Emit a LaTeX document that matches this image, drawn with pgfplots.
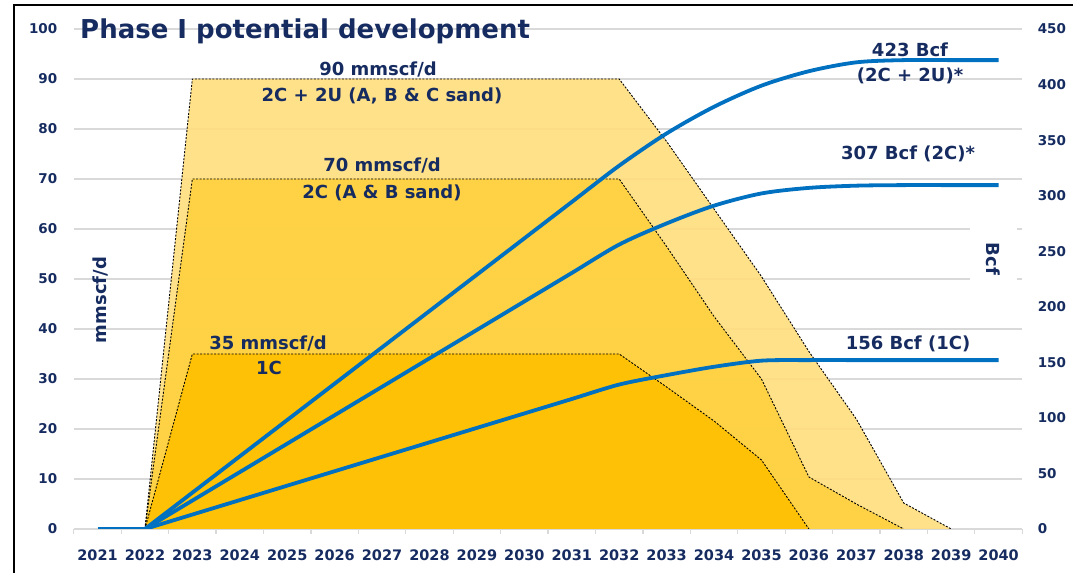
\documentclass[border=0pt]{standalone}
\usepackage{fontspec}
\setmainfont{DejaVu Sans}
\usepackage{pgfplots}
\usepackage{pgfplotstable}
\pgfplotsset{compat=1.18}

\definecolor{navy}{RGB}{22,44,96}
\definecolor{cumblue}{RGB}{0,112,192}
\definecolor{gridgray}{RGB}{217,217,217}
\definecolor{lightgold}{RGB}{255,222,128}
\definecolor{midgold}{RGB}{255,210,64}
\definecolor{darkgold}{RGB}{255,192,0}

% production rate, mmscf/d (x = 0 for 2021)
\pgfplotstableread{
x rate
1 0
2 90
11 90
12 77.5
13 64
14 50.5
15 35.5
16 22
17 5.2
18 0
}\rateHigh
\pgfplotstableread{
x rate
1 0
2 70
11 70
12 56.5
13 42.5
14 30
15 10.4
16 5
17 0
}\rateMid
\pgfplotstableread{
x rate
1 0
2 35
11 35
12 28.4
13 21.6
14 13.8
15 0
}\rateLow

% cumulative, Bcf
\pgfplotstableread{
x high mid low
1 0 0 0
2 32.7 25.6 13
3 65.4 51.2 26
4 98.1 76.8 39
5 130.8 102.4 52
6 163.5 128 65
7 196.2 153.6 78
8 228.9 179.2 91
9 261.6 204.8 104
10 294.3 230.4 117
11 327 256 130
12 356 275 138.5
13 380 291 146
14 399 302 151.5
15 412 307 152
16 420 309 152
17 422 309.5 152
18 422 309.5 152
19 422 309.5 152
}\cumul

\pgfplotsset{
  base/.style={
    scale only axis, width=948.5bp, height=500bp,
    at={(73.8bp,44bp)}, anchor=south west,
    xmin=-0.5, xmax=19.5,
  },
}
\tikzset{
  lbl/.style={font=\fontsize{18bp}{21bp}\selectfont\bfseries, text=navy, inner sep=0pt},
}

\begin{document}
\begin{tikzpicture}
\useasboundingbox (0,0) rectangle (1073bp,573bp);

\begin{axis}[base,
  ymin=0, ymax=100, ytick={0,10,...,100},
  ymajorgrids, grid style={gridgray, line width=1.2bp},
  axis x line*=bottom, axis y line*=left,
  y axis line style={draw=none},
  x axis line style={gridgray, line width=1.2bp},
  xtick={0,...,19},
  xticklabels={2021,2022,2023,2024,2025,2026,2027,2028,2029,2030,2031,2032,2033,2034,2035,2036,2037,2038,2039,2040},
  minor xtick={-0.5,0.5,...,19.5},
  major tick length=0pt, minor tick length=5bp, tick align=outside,
  minor tick style={gridgray, line width=1.2bp},
  xticklabel style={font=\fontsize{14.5bp}{16bp}\selectfont\bfseries, text=navy, yshift=-17bp},
  yticklabel style={font=\fontsize{13.5bp}{15bp}\selectfont\bfseries, text=navy, xshift=-13bp},
  /pgf/number format/assume math mode=true,
]
\addplot[fill=lightgold, fill opacity=0.92, draw=none] table[x=x,y=rate]{\rateHigh} \closedcycle;
\addplot[fill=midgold, fill opacity=0.92, draw=none] table[x=x,y=rate]{\rateMid} \closedcycle;
\addplot[fill=darkgold, fill opacity=0.92, draw=none] table[x=x,y=rate]{\rateLow} \closedcycle;
\addplot[black, line width=0.9bp, dash pattern=on 2bp off 1.5bp] table[x=x,y=rate]{\rateHigh};
\addplot[black, line width=0.9bp, dash pattern=on 2bp off 1.5bp] table[x=x,y=rate]{\rateMid};
\addplot[black, line width=0.9bp, dash pattern=on 2bp off 1.5bp] table[x=x,y=rate]{\rateLow};
\end{axis}

\begin{axis}[base,
  ymin=0, ymax=450, ytick={0,50,...,450},
  axis y line*=right, axis x line=none,
  y axis line style={draw=none}, major tick length=0pt,
  yticklabel style={font=\fontsize{13.5bp}{15bp}\selectfont\bfseries, text=navy, anchor=west, xshift=12bp},
  /pgf/number format/assume math mode=true,
]
\addplot[cumblue, line width=3.8bp] coordinates {(0,0) (1,0)};
\addplot[cumblue, line width=3.8bp, smooth, tension=0.5] table[x=x,y=high]{\cumul};
\addplot[cumblue, line width=3.8bp, smooth, tension=0.5] table[x=x,y=mid]{\cumul};
\addplot[cumblue, line width=3.8bp, smooth, tension=0.5] table[x=x,y=low]{\cumul};
\end{axis}

% slide frame
\draw[black, line width=2bp] (14bp,0bp) -- (14bp,568bp) -- (1073bp,568bp);

\node[anchor=base west, inner sep=0pt, text=navy, font=\fontsize{26bp}{30bp}\selectfont\bfseries]
  at (80bp,534bp) {Phase I potential development};

\fill[white] (970bp,273bp) rectangle (1017bp,363bp);
\node[lbl, rotate=-90] at (993bp,314bp) {Bcf};
\node[lbl, rotate=90] at (100bp,273bp) {mmscf/d};

\node[lbl, anchor=base] at (378bp,497.5bp) {90 mmscf/d};
\node[lbl, anchor=base] at (382bp,471.5bp) {2C + 2U (A, B \& C sand)};
\node[lbl, anchor=base] at (382bp,401.5bp) {70 mmscf/d};
\node[lbl, anchor=base] at (382bp,374bp) {2C (A \& B sand)};
\node[lbl, anchor=base] at (268bp,223.5bp) {35 mmscf/d};
\node[lbl, anchor=base] at (269bp,198bp) {1C};
\node[lbl, anchor=base] at (910bp,516.5bp) {423 Bcf};
\node[lbl, anchor=base] at (910bp,491bp) {(2C + 2U)*};
\node[lbl, anchor=base] at (908bp,413.5bp) {307 Bcf (2C)*};
\node[lbl, anchor=base] at (908bp,223.5bp) {156 Bcf (1C)};
\end{tikzpicture}
\end{document}
